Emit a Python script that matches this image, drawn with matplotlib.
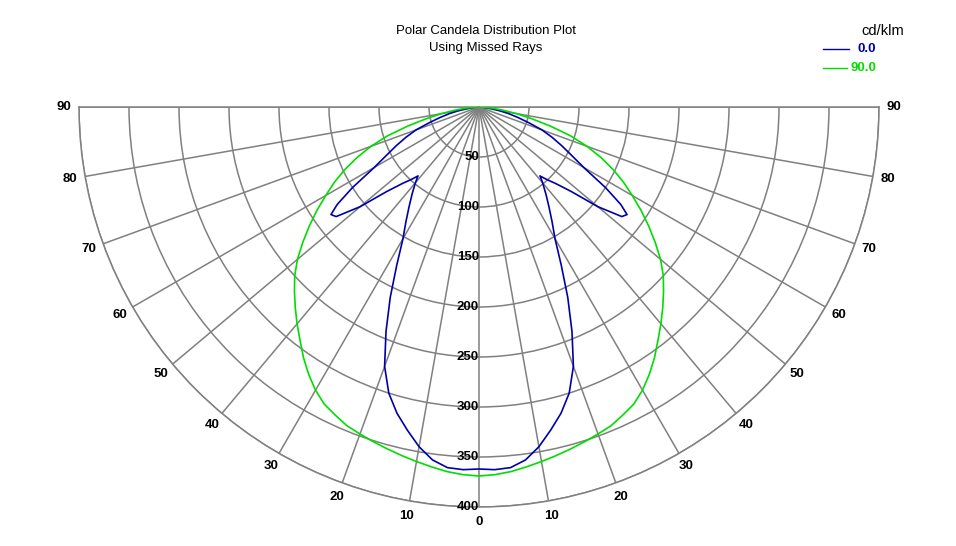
import numpy as np
import matplotlib
matplotlib.use('Agg')
import matplotlib.pyplot as plt
from matplotlib.lines import Line2D

# candela values (cd/klm) for one half of each plane, mirrored for the other half
angles_c0 = [0, 2.5, 5, 7.5, 10, 12.5, 15, 17.5, 20, 22.5, 25, 27.5, 30, 32.5,
             35, 37.5, 40, 41.5, 43, 45, 47.5, 50, 52.5, 54, 55.5, 57.5, 60,
             62.5, 65, 67.5, 70, 72.5, 75, 77.5, 80, 82.5, 85, 87.5, 90]
cd_c0 = [362, 363, 362, 356, 345, 331, 317, 300, 276, 243, 210, 178, 152, 136,
         122, 110, 99, 92, 99, 108, 125, 155, 180, 183, 172, 150, 121,
         104, 91, 79, 67, 52, 40, 30, 20, 13, 7, 3, 0]

angles_c90 = [0, 2.5, 5, 7.5, 10, 12.5, 15, 17.5, 20, 22.5, 25, 27.5, 30, 32.5,
              35, 37.5, 40, 42.5, 45, 47.5, 50, 52.5, 55, 57.5, 60, 62.5, 65,
              67.5, 70, 72.5, 75, 77.5, 80, 82.5, 85, 87.5, 90]
cd_c90 = [369, 368, 366, 363, 360, 357, 354, 351, 348, 345, 340, 335, 327, 317,
          306, 294, 283, 272, 261, 250, 237, 222, 207, 192, 177, 163, 148,
          132, 115, 96, 74, 54, 38, 24, 13, 5, 0]

ring_values = [50, 100, 150, 200, 250, 300, 350, 400]
angle_ticks = [0, 10, 20, 30, 40, 50, 60, 70, 80, 90]
series_names = ['0.0', '90.0']
series_colors = ['#0000a8', '#00dd00']
title_lines = ['Polar Candela Distribution Plot', 'Using Missed Rays']
unit_label = 'cd/klm'

plt.rcParams['font.family'] = ['Liberation Sans', 'DejaVu Sans']
grey = '#808080'

W, H = 956, 546
cx, cy, R = 479, 107, 400   # pixel centre (from top) and outer radius
fig = plt.figure(figsize=(W / 100, H / 100), dpi=100)

# polar wedge sits in the middle of a square box
ax = fig.add_axes([(cx - R) / W, (H - cy - 1.5 * R) / H, 2 * R / W, 2 * R / H],
                  projection='polar')
ax.set_theta_zero_location('S')
ax.set_thetamin(-90)
ax.set_thetamax(90)
ax.set_rlim(0, 400)
ax.set_thetagrids(range(-90, 91, 10), labels=[''] * 19)
ax.set_rgrids(ring_values, labels=[''] * len(ring_values))
ax.tick_params(length=0)
ax.grid(True, color=grey, lw=1.1)
for sp in ax.spines.values():
    sp.set_color(grey)
    sp.set_linewidth(1.1)


def mirrored(angles, vals):
    a = np.array(angles, dtype=float)
    v = np.array(vals, dtype=float)
    th = np.deg2rad(np.concatenate([-a[::-1], a[1:]]))
    return th, np.concatenate([v[::-1], v[1:]])


for (angs, vals), col in zip([(angles_c0, cd_c0), (angles_c90, cd_c90)], series_colors):
    th, r = mirrored(angs, vals)
    ax.plot(th, r, color=col, lw=1.2, zorder=3)

# angle labels round the outside
for a in angle_ticks:
    for s in ((1,) if a == 0 else (-1, 1)):
        ax.text(np.deg2rad(s * a), 415, str(a), ha='center', va='center',
                fontsize=9.5, weight='bold')

# ring labels down the 0 spoke
for rv in ring_values:
    ax.text(0, rv, str(rv), ha='right', va='center', fontsize=9.5,
            weight='bold', zorder=4)

fig.text(486 / W, 1 - 39.5 / H, '\n'.join(title_lines), ha='center', va='center',
         fontsize=9.5, linespacing=1.45)

# legend
fig.text(883 / W, 1 - 31 / H, unit_label, ha='center', va='center', fontsize=10.5)
for i, (name, col) in enumerate(zip(series_names, series_colors)):
    y = 1 - (49 + 18.7 * i) / H
    fig.add_artist(Line2D([823 / W, (849 - 2 * i) / W], [y, y], color=col, lw=1.0,
                          transform=fig.transFigure))
    fig.text(876.5 / W, y, name, ha='right', va='center', fontsize=9.5,
             weight='bold', color=col)

fig.savefig('out.png', dpi=100)
plt.close(fig)
